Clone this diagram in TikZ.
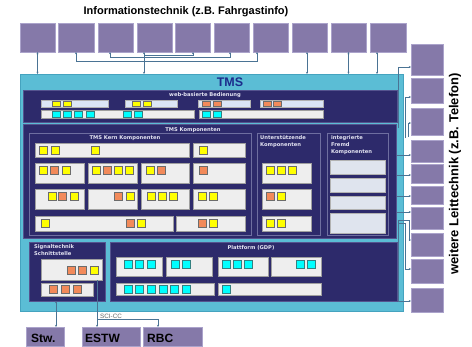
\documentclass[tikz,border=0pt]{standalone}
\usepackage{fontspec}
\setmainfont{DejaVu Sans}
\newfontfamily\lib{Liberation Sans}
\usetikzlibrary{arrows.meta}
\definecolor{pur}{HTML}{8579A9}
\definecolor{purb}{HTML}{ABA3CB}
\definecolor{tmscy}{HTML}{5BBDD5}
\definecolor{tmsb}{HTML}{45A3BF}
\definecolor{navy}{HTML}{2D2A6B}
\definecolor{navyb}{HTML}{55548F}
\definecolor{gbar}{HTML}{EEEEEE}
\definecolor{bbar}{HTML}{DCE6F6}
\definecolor{ibar}{HTML}{DFE4EE}
\definecolor{sqyc}{HTML}{FFFF00}
\definecolor{sqoc}{HTML}{F28A5A}
\definecolor{sqcc}{HTML}{00FFFF}
\definecolor{connc}{HTML}{4A7394}
\definecolor{tmsblue}{HTML}{1C2C8C}
\definecolor{lblc}{HTML}{E4E4F2}
\newcommand\bx[6][]{\pgfmathsetmacro\bxw{#5-#3}\pgfmathsetmacro\bxh{#6-#4}%
  \node[#1,anchor=north west,inner sep=0pt,outer sep=0pt,minimum width=\bxw pt,minimum height=\bxh pt] (#2) at (#3,#4) {};}
\newcommand\sqr[5]{\draw[#1] (#2,#3) rectangle ++(#4,#5);}
\newcommand\sqs[3]{\sqr{#1}{#2}{#3}{8}{8}}
\begin{document}
\begin{tikzpicture}[x=1pt,y=-1pt,
  pbox/.style={fill=pur,draw=purb,line width=0.6pt},
  panel/.style={fill=navy,draw=navyb,line width=0.6pt},
  subpanel/.style={fill=navy,draw=navyb!85!white,line width=0.6pt},
  gbox/.style={fill=gbar,draw=gray!75,line width=0.6pt},
  bbox/.style={fill=bbar,draw=gray!60,line width=0.6pt},
  ibox/.style={fill=ibar,draw=gray!60,line width=0.6pt},
  ysq/.style={fill=sqyc,draw=gray!85!black,line width=0.5pt},
  osq/.style={fill=sqoc,draw=gray!85!black,line width=0.5pt},
  csq/.style={fill=sqcc,draw=teal!60!gray,line width=0.5pt},
  connl/.style={draw=connc,line width=0.5pt},
  conn2/.style={connl,{Stealth[length=2.2pt,width=2pt]}-{Stealth[length=2.2pt,width=2pt]}},
  conna/.style={connl,-{Stealth[length=2.2pt,width=2pt]}},
  plabel/.style={font=\fontsize{5.2}{7}\selectfont\bfseries,text=lblc,inner sep=0pt},
  ]
\useasboundingbox[fill=white] (0,0) rectangle (472,346);
% title
\node[font=\lib\fontsize{11}{13}\selectfont\bfseries] (title) at (186,12) {Informationstechnik (z.B. Fahrgastinfo)};
\node[font=\lib\fontsize{13}{15}\selectfont\bfseries,rotate=90] (rtitle) at (455,174) {weitere Leittechnik (z.B. Telefon)};
% top boxes
\foreach \i/\a/\b in {1/20/55,2/58/94,3/98/133,4/137/172,5/175/210,6/214/249,7/253/288,8/292/327,9/331/366,10/370/406}
  {\bx[pbox]{t\i}{\a}{23}{\b}{52}}
% right boxes
\foreach \i/\a/\b in {1/44/75,2/78/103,3/108/135,4/140/162,5/164/183,6/186/204,7/207/229,8/233/256,9/259/283,10/288/312}
  {\bx[pbox]{r\i}{411}{\a}{443}{\b}}
% bottom boxes
\bx[pbox]{stw}{26}{327}{64}{346}
\bx[pbox]{estw}{82}{327}{140}{346}
\bx[pbox]{rbc}{143}{327}{202}{346}
\node[font=\lib\fontsize{12}{14}\selectfont\bfseries,anchor=base west,inner sep=0pt] (stwt) at (31,342) {Stw.};
\node[font=\lib\fontsize{12}{14}\selectfont\bfseries,anchor=base west,inner sep=0pt] (estwt) at (85,342) {ESTW};
\node[font=\lib\fontsize{12}{14}\selectfont\bfseries,anchor=base west,inner sep=0pt] (rbct) at (147,342) {RBC};
% TMS
\bx[fill=tmscy,draw=tmsb,line width=0.6pt]{tms}{20}{74}{403}{311}
\node[font=\lib\fontsize{12.5}{14}\selectfont\bfseries,text=tmsblue,inner sep=0pt] (tmst) at (230,82) {TMS};
% web panel
\bx[panel]{web}{23}{90}{397}{122}
\node[plabel] (lweb) at (205,95) {web-basierte Bedienung};
\bx[bbox]{w1}{41}{100}{108}{107}
\bx[bbox]{w2}{125}{100}{177}{107}
\bx[bbox]{w3}{198}{100}{250}{107}
\bx[bbox]{w4}{260}{100}{323}{107}
\bx[gbox]{w5}{41}{110}{194}{118}
\bx[gbox]{w6}{199}{110}{323}{118}
\foreach \x in {52,63,132,143} {\sqr{ysq}{\x}{101.5}{8}{4.5}}
\foreach \x in {202,213,263,273} {\sqr{osq}{\x}{101.5}{8}{4.5}}
\foreach \x in {52,63,74,86,123,134,202,213} {\sqr{csq}{\x}{111}{8}{6}}
% TMS Komponenten
\bx[panel]{komp}{23}{124}{396}{238}
\node[plabel] (lkomp) at (193,130) {TMS Komponenten};
\bx[subpanel]{kern}{29}{133}{251}{235}
\bx[subpanel]{unter}{257}{133}{320}{235}
\bx[subpanel]{integ}{327}{133}{388}{235}
\node[plabel] (lkern) at (125,138.5) {TMS Kern Komponenten};
\node[plabel,anchor=north west,align=left] (lunter) at (260,135.5) {Unterstützende\\Komponenten};
\node[plabel,anchor=north west,align=left] (linteg) at (331,135.5) {integrierte\\Fremd\\Komponenten};
% kern boxes
\bx[gbox]{k11}{35}{143}{189}{157}
\bx[gbox]{k12}{193}{143}{245}{157}
\foreach \r/\a/\b in {2/163/183,3/189/209} {
  \bx[gbox]{k\r1}{35}{\a}{84}{\b}
  \bx[gbox]{k\r2}{88}{\a}{137}{\b}
  \bx[gbox]{k\r3}{141}{\a}{189}{\b}
  \bx[gbox]{k\r4}{193}{\a}{245}{\b}}
\bx[gbox]{k41}{35}{216}{173}{231}
\bx[gbox]{k42}{176}{216}{245}{231}
\foreach \x in {39,51,91,199} {\sqs{ysq}{\x}{146}}
\foreach \x in {39,62,92,114,125,146} {\sqs{ysq}{\x}{166}}
\foreach \x in {50,103,157,199} {\sqs{osq}{\x}{166}}
\foreach \x in {48,70,126,147,158,169,198,209} {\sqs{ysq}{\x}{192}}
\foreach \x in {58,114} {\sqs{osq}{\x}{192}}
\foreach \x in {41,137,209} {\sqs{ysq}{\x}{219.5}}
\foreach \x in {126,198} {\sqs{osq}{\x}{219.5}}
% unterstuetzende
\bx[gbox]{u1}{262}{163}{311}{183}
\bx[gbox]{u2}{262}{189}{311}{209}
\bx[gbox]{u3}{262}{216}{311}{231}
\foreach \x in {266,277,288} {\sqs{ysq}{\x}{166}}
\sqs{osq}{266}{192}
\sqs{ysq}{277}{192}
\foreach \x in {266,277} {\sqs{ysq}{\x}{219.5}}
% integrierte
\bx[ibox]{i1}{330}{160}{385}{174}
\bx[ibox]{i2}{330}{178}{385}{192}
\bx[ibox]{i3}{330}{196}{385}{209}
\bx[ibox]{i4}{330}{213}{385}{233}
% Signaltechnik
\bx[panel]{sig}{29}{242}{105}{301}
\node[plabel,anchor=north west,align=left] (lsig) at (34,244) {Signaltechnik\\Schnittstelle};
\bx[gbox]{s1}{41}{259}{102}{280}
\bx[gbox]{s2}{41}{283}{93}{296}
\foreach \x in {67,78} {\sqs{osq}{\x}{266}}
\sqs{ysq}{90}{266}
\foreach \x in {49,61,73} {\sqs{osq}{\x}{285.5}}
% Plattform
\bx[panel]{plat}{110}{242}{397}{301}
\node[plabel] (lplat) at (251,247.5) {Plattform (GDP)};
\bx[gbox]{p1}{116}{257}{162}{276}
\bx[gbox]{p2}{166}{257}{212}{276}
\bx[gbox]{p3}{218}{257}{268}{276}
\bx[gbox]{p4}{271}{257}{321}{276}
\bx[gbox]{p5}{116}{283}{214}{295}
\bx[gbox]{p6}{218}{283}{321}{295}
\foreach \x in {124,135,147,171,182,222,233,244,296,307} {\sqs{csq}{\x}{260}}
\foreach \x in {124,135,147,159,170,182,222} {\sqs{csq}{\x}{285}}
% top connectors
\draw[conn2] (t1.south) -- (t1.south |- tms.north);
\draw[conn2] ([xshift=-10.5pt]t4.south) -- ([xshift=-10.5pt]t4.south |- tms.north);
\draw[conn2] (t2.south) -- ++(0,9) -| ([xshift=-13.5pt]t7.south);
\draw[conn2] ([xshift=-5.5pt]t3.south) -- ++(0,5) -| ([xshift=-1.5pt]t6.south);
\draw[conna] ([xshift=-10.5pt,yshift=-3pt]t4.south) -| ([xshift=0.5pt]t5.south);
\draw[conn2] ([xshift=-2.5pt]t8.south) -- ([xshift=-2.5pt]t8.south |- tms.north);
\draw[conn2] (t9.south) -- (t9.south |- tms.north);
\draw[conn2] ([xshift=-11pt]t10.south) -- ([xshift=-11pt]t10.south |- tms.north);
% right connectors
\coordinate (cr1) at (398,128);
\coordinate (cr2) at (405,138);
\coordinate (cr3) at (408,137);
\coordinate (cr4) at (397,155);
\coordinate (cr5) at (397,175);
\coordinate (cr6) at (397,196);
\coordinate (cr7) at (397,212);
\coordinate (cr8) at (398,220);
\coordinate (cr9) at (398,223);
\draw[conna] (cr1) |- ([yshift=-7.5pt]r1.west);
\draw[conna] (cr2) |- ([yshift=-6.5pt]r2.west);
\draw[conna] (cr3) |- ([yshift=-1.5pt]r3.west);
\draw[conna] (cr4) -- (cr4 -| r4.west);
\draw[conna] (cr5) -- (cr5 -| r5.west);
\draw[conna] (cr6) -- (cr6 -| r6.west);
\draw[conna] (cr7) -- (cr7 -| r7.west);
\draw[conna] (cr8) -- ++(11,0) |- ([yshift=4.5pt]r8.west);
\draw[conna] (cr9) -- ++(7,0) |- ([yshift=2pt]r9.west);
\draw[conna] (cr8) |- ([yshift=-1pt]r10.west);
% bottom connectors
\draw[conn2] ([xshift=-11pt]sig.south) -- ([xshift=-11pt]sig.south |- stw.north);
\draw[conna] ([xshift=25.5pt]s1.south) -- ([xshift=25.5pt]s1.south |- estw.north);
\coordinate (sj) at (97,319);
\draw[conna] (sj) -| ([xshift=-14.5pt]rbc.north);
\node[font=\lib\fontsize{6.3}{7}\selectfont,text=gray!80!black,anchor=south west,inner sep=0pt] (scil) at (100,318.5) {SCI-CC};
\end{tikzpicture}
\end{document}
